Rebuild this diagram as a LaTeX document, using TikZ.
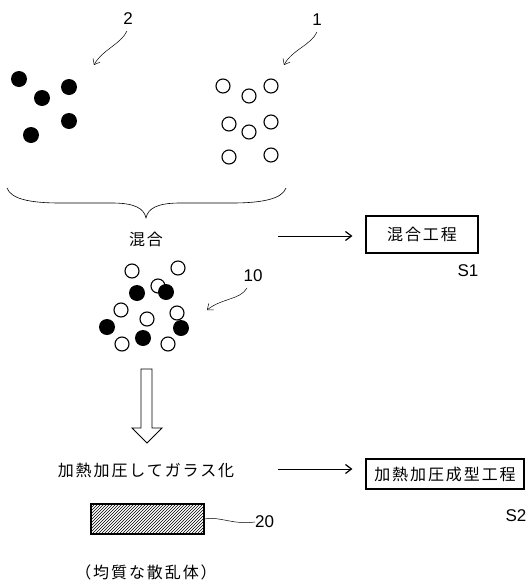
\documentclass[tikz,border=0pt]{standalone}
\usepackage{fontspec}
\setmainfont{Liberation Sans}
\newfontfamily\jp{Noto Sans CJK JP}[LetterSpace=12]
\usetikzlibrary{patterns,arrows.meta}
\begin{document}
\begin{tikzpicture}[x=1pt,y=-1pt,
  blk/.style={circle,fill=black,inner sep=0pt,minimum size=16pt},
  wht/.style={circle,draw=black,fill=white,line width=1.1pt,inner sep=0pt,minimum size=14pt},
  num/.style={font=\fontsize{17}{17}\selectfont,inner sep=0pt},
  jtxt/.style={font=\jp\fontsize{16}{16}\selectfont,inner sep=0pt},
  procbox/.style={draw,line width=1.1pt,font=\jp\fontsize{16}{16}\selectfont,inner sep=0pt},
  lead/.style={line width=0.5pt,-{Straight Barb[length=5pt,width=8pt]}},
  flow/.style={line width=0.9pt,-{Straight Barb[length=6pt,width=9pt,line width=1.2pt]}}]
\useasboundingbox[fill=white] (0,0) rectangle (526,584);
% group 2: black particles
\node[blk] (b1) at (19,79) {};
\node[blk] (b2) at (42,98) {};
\node[blk] (b3) at (69,87) {};
\node[blk] (b4) at (69,121) {};
\node[blk] (b5) at (31,135) {};
\node[num] (n2) at (128,19) {2};
\coordinate (t2) at (94,65);
\draw[lead] (127,31) .. controls (121,44) and (102,50) .. (t2);
% group 1: white particles
\node[wht] (w1) at (223,86) {};
\node[wht] (w2) at (249,96) {};
\node[wht] (w3) at (271,86) {};
\node[wht] (w4) at (229,124) {};
\node[wht] (w5) at (249,132) {};
\node[wht] (w6) at (271,122) {};
\node[wht] (w7) at (229,157) {};
\node[wht] (w8) at (271,155) {};
\node[num] (n1) at (317,20) {1};
\coordinate (t1) at (284,65);
\draw[lead] (317,32) .. controls (311,45) and (292,50) .. (t1);
% brace
\draw[line width=0.6pt] (7,188) .. controls (11,199) and (30,203) .. (60,203) -- (112,203)
  .. controls (134,203) and (144,208) .. (146,218)
  .. controls (148,208) and (158,203) .. (180,203) -- (232,203)
  .. controls (262,203) and (282,199) .. (286,188);
\node[jtxt] (mix) at (146,239) {混合};
% S1
\node[procbox,minimum width=112pt,minimum height=37pt] (s1box) at (422,234.5) {混合工程};
\node[num] (s1) at (468,271) {S1};
\coordinate (a1) at (278,236);
\draw[flow,shorten >=13pt] (a1) -- (a1 -| s1box.west);
% mixed cluster
\node[wht] (m1) at (132,271) {};
\node[wht] (m2) at (178,268) {};
\node[wht] (m3) at (158,286) {};
\node[wht] (m4) at (121,310) {};
\node[wht] (m5) at (147,319) {};
\node[wht] (m6) at (177,313) {};
\node[wht] (m7) at (122,344) {};
\node[wht] (m8) at (168,344) {};
\node[blk] (k1) at (137,293) {};
\node[blk] (k2) at (166,292) {};
\node[blk] (k3) at (107,327) {};
\node[blk] (k4) at (181,328) {};
\node[blk] (k5) at (143,338) {};
\node[num] (n10) at (253,276) {10};
\coordinate (t10) at (207,310);
\draw[lead] (247,288) .. controls (240,300) and (222,298) .. (t10);
% hollow arrow
\draw[line width=0.9pt,fill=white] (141,369) -- (152,369) -- (152,428) -- (162,428) -- (147,443) -- (132,428) -- (141,428) -- cycle;
\node[jtxt] (heat) at (146,470) {加熱加圧してガラス化};
% S2
\node[procbox,minimum width=158pt,minimum height=30pt] (s2box) at (445,474) {加熱加圧成型工程};
\node[num] (s2) at (516,516) {S2};
\coordinate (a2) at (278,469);
\draw[flow,shorten >=13pt] (a2) -- (a2 -| s2box.west);
% glass body
\node[draw,line width=1.1pt,pattern=north east lines,minimum width=113pt,minimum height=30pt,inner sep=0pt] (glass) at (147.5,519) {};
\node[num,anchor=west] (n20) at (255,522) {20};
\draw[line width=0.5pt] (glass.east) .. controls (220,516) and (232,525) .. (n20.west);
\node[jtxt] (homog) at (146,572) {（均質な散乱体）};
\end{tikzpicture}
\end{document}
